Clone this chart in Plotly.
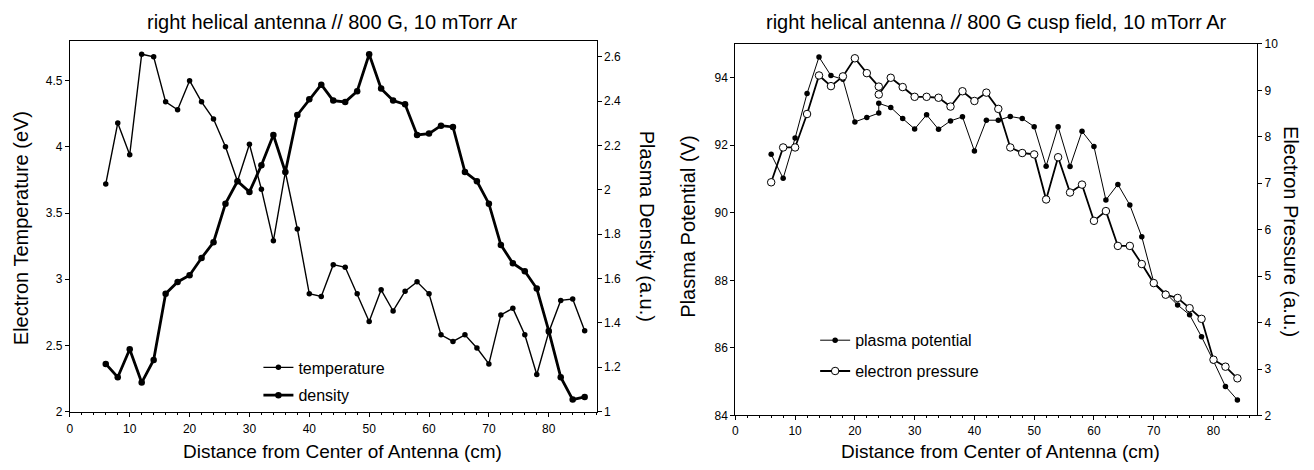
import plotly.graph_objects as go

W, H = 1314, 470
FONT = "Liberation Sans, Arial, Helvetica, sans-serif"

# ---- left panel: probe scan along the axis, 800 G, 10 mTorr Ar ----
distance_cm = [6, 8, 10, 12, 14, 16, 18, 20, 22, 24, 26, 28, 30, 32, 34, 36, 38, 40,
               42, 44, 46, 48, 50, 52, 54, 56, 58, 60, 62, 64, 66, 68, 70, 72, 74, 76,
               78, 80, 82, 84, 86]
temperature_ev = [3.72, 4.18, 3.94, 4.70, 4.68, 4.34, 4.28, 4.50, 4.34, 4.21, 4.00, 3.74,
                  4.02, 3.68, 3.29, 3.81, 3.38, 2.89, 2.87, 3.11, 3.09, 2.89, 2.68, 2.92,
                  2.76, 2.91, 2.98, 2.89, 2.58, 2.53, 2.58, 2.48, 2.36, 2.73, 2.78, 2.58,
                  2.28, 2.60, 2.84, 2.85, 2.61]
density_au = [1.215, 1.155, 1.281, 1.131, 1.233, 1.532, 1.585, 1.615, 1.693, 1.764, 1.938,
              2.039, 1.991, 2.111, 2.248, 2.081, 2.338, 2.409, 2.475, 2.403, 2.397, 2.445,
              2.612, 2.457, 2.403, 2.386, 2.248, 2.254, 2.290, 2.284, 2.081, 2.039, 1.938,
              1.752, 1.669, 1.633, 1.555, 1.364, 1.155, 1.054, 1.066]

# ---- right panel: 800 G cusp field, 10 mTorr Ar (two scans meet at 24 cm) ----
cusp_cm = [6, 8, 10, 12, 14, 16, 18, 20, 22, 24, 24, 26, 28, 30, 32, 34, 36, 38, 40, 42,
           44, 46, 48, 50, 52, 54, 56, 58, 60, 62, 64, 66, 68, 70, 72, 74, 76, 78, 80,
           82, 84]
potential_v = [91.73, 91.02, 92.21, 93.53, 94.61, 94.06, 93.95, 92.69, 92.82, 92.95, 93.24,
               93.12, 92.79, 92.48, 92.90, 92.47, 92.72, 92.84, 91.83, 92.74, 92.74, 92.85,
               92.79, 92.55, 91.38, 92.55, 91.37, 92.41, 91.96, 90.38, 90.84, 90.23, 89.29,
               87.95, 87.62, 87.27, 86.98, 86.33, 85.61, 84.86, 84.46]
pressure_au = [7.02, 7.77, 7.77, 8.49, 9.32, 9.09, 9.30, 9.69, 9.37, 9.08, 8.91, 9.27, 9.07,
               8.86, 8.86, 8.84, 8.65, 8.98, 8.77, 8.95, 8.60, 7.77, 7.65, 7.62, 6.65, 7.56,
               6.80, 6.97, 6.19, 6.40, 5.65, 5.65, 5.26, 4.85, 4.60, 4.53, 4.31, 4.08, 3.20,
               3.05, 2.80]

x_ticks = [0, 10, 20, 30, 40, 50, 60, 70, 80]
temp_ticks = [2, 2.5, 3, 3.5, 4, 4.5]
dens_ticks = [1, 1.2, 1.4, 1.6, 1.8, 2, 2.2, 2.4, 2.6]
pot_ticks = [84, 86, 88, 90, 92, 94]
pres_ticks = [2, 3, 4, 5, 6, 7, 8, 9, 10]


def px_x(p):
    return p / W


def px_y(p):
    return 1 - p / H


fig = go.Figure()

fig.add_trace(go.Scatter(
    x=distance_cm, y=temperature_ev, name="temperature", xaxis="x", yaxis="y",
    mode="lines+markers", line=dict(color="black", width=1.4),
    marker=dict(color="black", size=5.5), legend="legend", legendgroup="t"))
fig.add_trace(go.Scatter(
    x=distance_cm, y=density_au, name="density", xaxis="x", yaxis="y2",
    mode="lines+markers", line=dict(color="black", width=2.8),
    marker=dict(color="black", size=6.5), legend="legend", legendgroup="d"))
fig.add_trace(go.Scatter(
    x=cusp_cm, y=potential_v, name="plasma potential", xaxis="x2", yaxis="y3",
    mode="lines+markers", line=dict(color="black", width=1),
    marker=dict(color="black", size=5.5), legend="legend2", legendgroup="p"))
fig.add_trace(go.Scatter(
    x=cusp_cm, y=pressure_au, name="electron pressure", xaxis="x2", yaxis="y4",
    mode="lines+markers", line=dict(color="black", width=1.8),
    marker=dict(color="white", size=7.5, symbol="circle",
                line=dict(color="black", width=1)),
    legend="legend2", legendgroup="e"))

axis_common = dict(showline=True, linecolor="black", linewidth=1, showgrid=False,
                   zeroline=False, ticks="outside", ticklen=4, tickcolor="black",
                   tickfont=dict(family=FONT, size=12, color="black"))

x_common = dict(axis_common, tickvals=x_ticks, mirror=True,
                minor=dict(dtick=2, tick0=0, ticks="outside", ticklen=2,
                           tickcolor="black"))

legend_font = dict(family=FONT, size=16, color="black")

fig.update_layout(
    width=W, height=H, margin=dict(l=0, r=0, t=0, b=0),
    paper_bgcolor="white", plot_bgcolor="white",
    font=dict(family=FONT, color="black"),
    xaxis=dict(x_common, domain=[px_x(67), px_x(595)], range=[0, 88], anchor="y",
               ticklabelstandoff=2),
    yaxis=dict(axis_common, domain=[px_y(417), px_y(35)], range=[2, 4.8],
               tickvals=temp_ticks, anchor="x"),
    yaxis2=dict(axis_common, overlaying="y", side="right", anchor="x",
                range=[1, 2.672], tickvals=dens_ticks,
                ticktext=[f"{v:g}" for v in dens_ticks]),
    xaxis2=dict(x_common, domain=[px_x(734), px_x(1257)], range=[0, 87.3],
                anchor="y3"),
    yaxis3=dict(axis_common, domain=[px_y(421), px_y(38)], range=[84, 95],
                tickvals=pot_ticks, anchor="x2"),
    yaxis4=dict(axis_common, overlaying="y3", side="right", anchor="x2",
                range=[2, 10], tickvals=pres_ticks),
    legend=dict(x=px_x(256), y=px_y(354), xanchor="left", yanchor="top",
                bgcolor="rgba(0,0,0,0)", traceorder="grouped", tracegroupgap=4,
                itemwidth=30, font=legend_font),
    legend2=dict(x=px_x(814), y=px_y(326), xanchor="left", yanchor="top",
                 bgcolor="rgba(0,0,0,0)", traceorder="grouped", tracegroupgap=7,
                 itemwidth=30, font=legend_font),
)

title_font = dict(family=FONT, size=20, color="black")
label_font = dict(family=FONT, size=20, color="black")
xlabel_font = dict(family=FONT, size=19, color="black")


def note(text, x, y, font, angle=0):
    fig.add_annotation(text=text, x=px_x(x), y=px_y(y), xref="paper", yref="paper",
                       showarrow=False, font=font, textangle=angle,
                       xanchor="center", yanchor="middle")


note("right helical antenna // 800 G, 10 mTorr Ar", 330, 15, title_font)
note("right helical antenna // 800 G cusp field, 10 mTorr Ar", 996, 15, title_font)
note("Distance from Center of Antenna (cm)", 340, 458, xlabel_font)
note("Distance from Center of Antenna (cm)", 1000, 458, xlabel_font)
note("Electron Temperature (eV)", 18, 228, label_font, -90)
note("Plasma Density (a.u.)", 645, 226, label_font, 90)
note("Plasma Potential (V)", 687, 226, label_font, -90)
note("Electron Pressure (a.u.)", 1291, 231, label_font, 90)

fig.write_html("out.html")
